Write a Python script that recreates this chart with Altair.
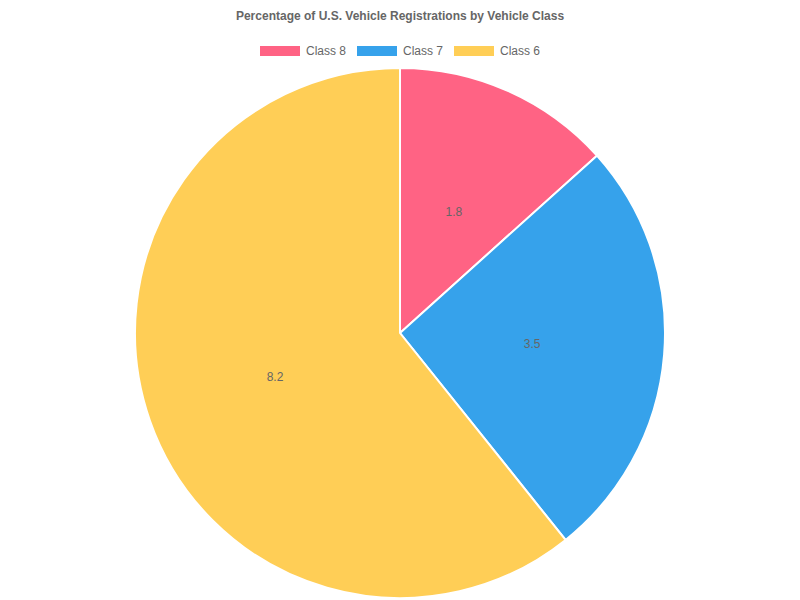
import altair as alt
import pandas as pd

categories = ["Class 8", "Class 7", "Class 6"]
values = [1.8, 3.5, 8.2]
colors = ["#FF6384", "#36A2EB", "#FFCE56"]

df = pd.DataFrame({"cls": categories, "value": values, "idx": list(range(len(categories)))})

FONT = "Liberation Sans"
R = 265

base = alt.Chart(df).encode(
    theta=alt.Theta("value:Q", stack=True),
    order=alt.Order("idx:Q", sort="ascending"),
)

legend_path = "M-2,-0.5H2V0.5H-2Z"

arcs = base.mark_arc(radius=R, stroke="white", strokeWidth=2).encode(
    x=alt.value(392),
    y=alt.value(265),
    color=alt.Color(
        "cls:N",
        scale=alt.Scale(domain=categories, range=colors),
        legend=alt.Legend(
            title=None,
            orient="none",
            direction="horizontal",
            legendX=262,
            legendY=-27,
            symbolType=legend_path,
            symbolSize=400,
            symbolStrokeWidth=0,
            symbolOpacity=1,
            labelOffset=16,
            columnPadding=10,
            labelFont=FONT,
            labelFontSize=12,
            labelColor="#666666",
        ),
    ),
)

labels = base.mark_text(radius=R / 2, font=FONT, fontSize=12, color="#666666").encode(
    x=alt.value(392),
    y=alt.value(265),
    text=alt.Text("value:Q", format=".1f"),
)

chart = (
    alt.layer(arcs, labels)
    .properties(
        width=784,
        height=532,
        padding={"left": 0, "top": 60, "right": 0, "bottom": 0},
        autosize=alt.AutoSizeParams(type="none"),
        title=alt.TitleParams(
            "Percentage of U.S. Vehicle Registrations by Vehicle Class",
            anchor="middle",
            font=FONT,
            fontSize=12,
            fontWeight="bold",
            color="#666666",
            offset=18,
        ),
    )
    .configure_view(stroke=None)
)

chart.save("out.html", embed_options={"renderer": "svg", "actions": False})
